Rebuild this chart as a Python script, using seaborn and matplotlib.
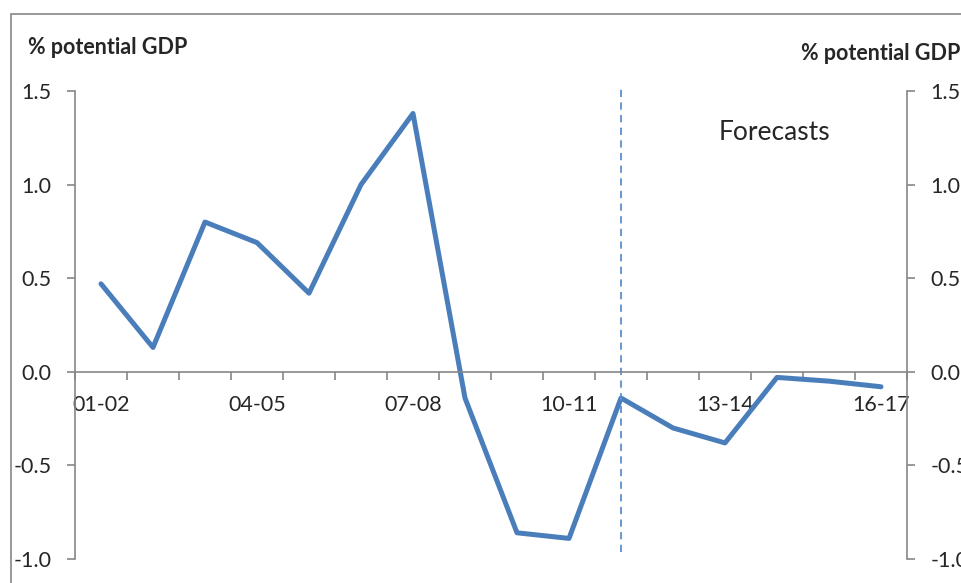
import matplotlib
matplotlib.use("Agg")
import matplotlib.pyplot as plt
from matplotlib.patches import Rectangle
from matplotlib.ticker import FixedLocator, NullFormatter
import numpy as np
import pandas as pd
import seaborn as sns

# fiscal years and % of potential GDP
years = ["01-02", "02-03", "03-04", "04-05", "05-06", "06-07", "07-08", "08-09",
         "09-10", "10-11", "11-12", "12-13", "13-14", "14-15", "15-16", "16-17"]
values = [0.47, 0.13, 0.80, 0.69, 0.42, 1.00, 1.38, -0.14,
          -0.86, -0.89, -0.14, -0.30, -0.38, -0.03, -0.05, -0.08]
forecast_start = "11-12"
yticks = [-1.0, -0.5, 0.0, 0.5, 1.0, 1.5]

df = pd.DataFrame({"pos": np.arange(len(years)), "year": years, "value": values})

sns.set_style("white")
plt.rcParams["font.family"] = ["Lato", "DejaVu Sans"]

grey = "#868686"
blue = "#4A7EBB"

fig = plt.figure(figsize=(9.61, 5.83), dpi=100)
ax = fig.add_axes([75 / 961, 1 - 559 / 583, 832 / 961, 468 / 583])

sns.lineplot(data=df, x="pos", y="value", ax=ax, color=blue, linewidth=3.6)

ax.set_xlim(-0.5, len(years) - 0.5)
ax.set_ylim(-1.0, 1.5)
ax.set_xlabel("")
ax.set_ylabel("")

# dashed line marking start of forecasts
fpos = years.index(forecast_start)
ax.plot([fpos, fpos], [-0.96, 1.52], color="#5B8FD0", linewidth=1.3,
        linestyle=(0, (4, 3)), clip_on=False)
ax.text(fpos + 1.88, 1.28, "Forecasts", fontsize=19, ha="left", va="center")

for s in ["top", "right"]:
    ax.spines[s].set_visible(False)
ax.spines["left"].set_color(grey)
ax.spines["bottom"].set_color(grey)
ax.spines["bottom"].set_position(("data", 0))
ax.spines["left"].set_linewidth(1.2)
ax.spines["bottom"].set_linewidth(1.2)

ax.set_yticks(yticks)
ax.set_yticklabels([f"{v:.1f}" for v in yticks])
ax.tick_params(axis="y", direction="out", length=6, width=1.2, color=grey,
               labelsize=15.5, pad=11, left=True)

ax.set_xticks(df["pos"][::3])
ax.set_xticklabels(df["year"][::3])
ax.tick_params(axis="x", which="major", length=0, labelsize=15.5, pad=17)
ax.xaxis.set_minor_locator(FixedLocator(np.arange(len(years) + 1) - 0.5))
ax.xaxis.set_minor_formatter(NullFormatter())
ax.tick_params(axis="x", which="minor", direction="out", length=6, width=1.2,
               color=grey, bottom=True)

ax2 = ax.twinx()
ax2.set_ylim(ax.get_ylim())
ax2.set_yticks(yticks)
ax2.set_yticklabels([f"{v:.1f}" for v in yticks])
for s in ["top", "left", "bottom"]:
    ax2.spines[s].set_visible(False)
ax2.spines["right"].set_color(grey)
ax2.spines["right"].set_linewidth(1.2)
ax2.tick_params(axis="y", direction="out", length=6, width=1.2, color=grey,
                labelsize=15.5, pad=11, right=True)
ax2.grid(False)

fig.text(28 / 961, 1 - 47 / 583, "% potential GDP", fontsize=15.5,
         fontweight="bold", ha="left", va="center")
fig.text(801 / 961, 1 - 53 / 583, "% potential GDP", fontsize=15.5,
         fontweight="bold", ha="left", va="center")

# outer chart border
fig.patches.append(Rectangle((11 / 961, -0.1), 1.0, 1 - 13.5 / 583 + 0.1,
                             transform=fig.transFigure, fill=False,
                             edgecolor=grey, linewidth=1.2))

fig.savefig("out.png", dpi=100)
